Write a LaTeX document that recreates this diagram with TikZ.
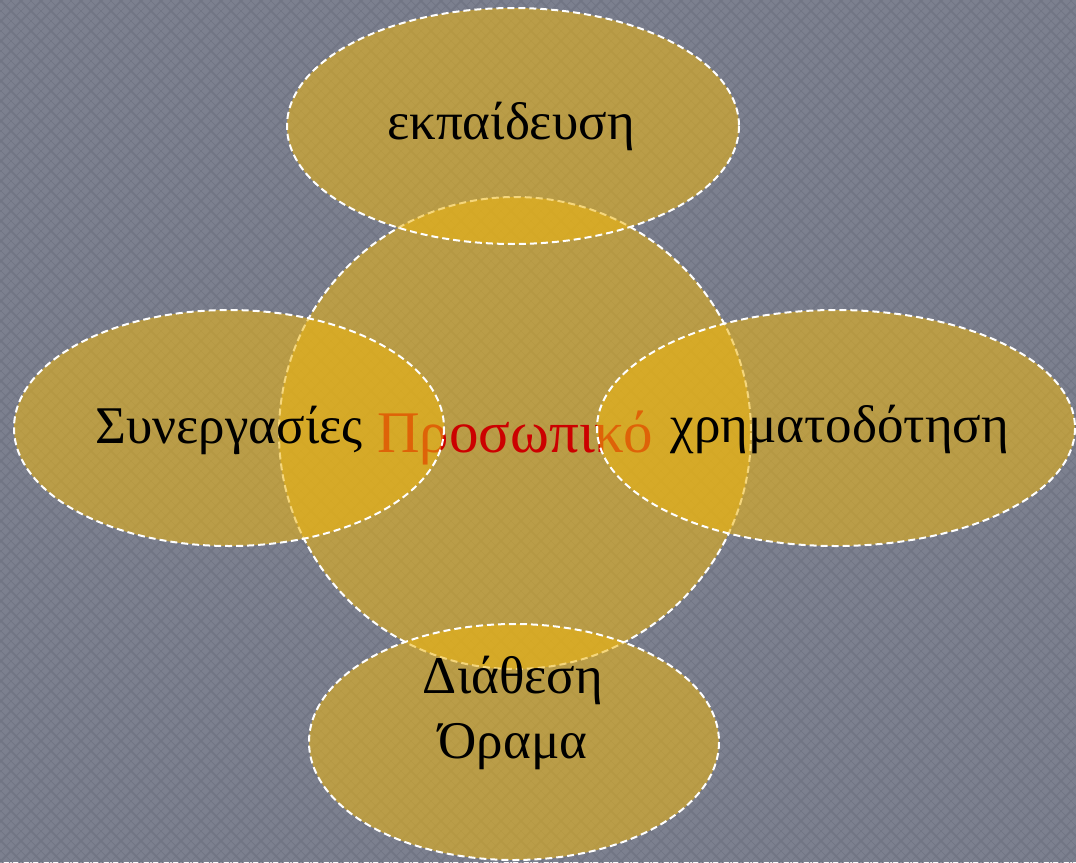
\documentclass[tikz,border=0pt]{standalone}
\usepackage{fontspec}
\setmainfont{Liberation Serif}
\definecolor{bgcol}{RGB}{124,128,143}
\definecolor{bgline}{RGB}{113,117,132}
\definecolor{gold}{RGB}{238,182,15}
\definecolor{redtxt}{RGB}{204,0,0}
\tikzset{
  blob/.style={fill=gold, fill opacity=0.55, draw=white, draw opacity=1, line width=2pt, dash pattern=on 7pt off 4pt},
  lbl/.style={font=\fontsize{53}{64}\selectfont, text=black, inner sep=0pt, anchor=base, align=center},
}
\begin{document}
\begin{tikzpicture}[x=1pt,y=-1pt]
\useasboundingbox (0,0) rectangle (1076,862);
\fill[bgcol] (0,0) rectangle (1076,862);
\begin{scope}
\clip (0,0) rectangle (1076,862);
\draw[bgline, line width=1.5pt] foreach \k in {-940,-920,...,1120} { (\k,-20) -- ++(902,902) (\k+902,-20) -- ++(-902,902) };
\draw[bgline, line width=0.7pt] foreach \k in {-930,-910,...,1130} { (\k,-20) -- ++(902,902) (\k+902,-20) -- ++(-902,902) };
\end{scope}
% central circle
\draw[blob] (515,433) circle[radius=236];
\node[lbl, text=redtxt, font=\fontsize{59}{70}\selectfont] (center) at (515,452) {Προσωπικό};
% top
\draw[blob] (513,126) ellipse[x radius=226, y radius=118];
\node[lbl] (top) at (511,139) {εκπαίδευση};
% left
\draw[blob] (229,428) ellipse[x radius=215, y radius=118];
\node[lbl] (left) at (229,443) {Συνεργασίες};
% right
\draw[blob] (836,428) ellipse[x radius=239, y radius=118];
\node[lbl] (right) at (840,442) {χρηματοδότηση};
% bottom
\draw[blob] (514,742) ellipse[x radius=205, y radius=118];
\node[lbl] (bottom1) at (513,693) {Διάθεση};
\node[lbl] (bottom2) at (513,758) {Όραμα};
\end{tikzpicture}
\end{document}
